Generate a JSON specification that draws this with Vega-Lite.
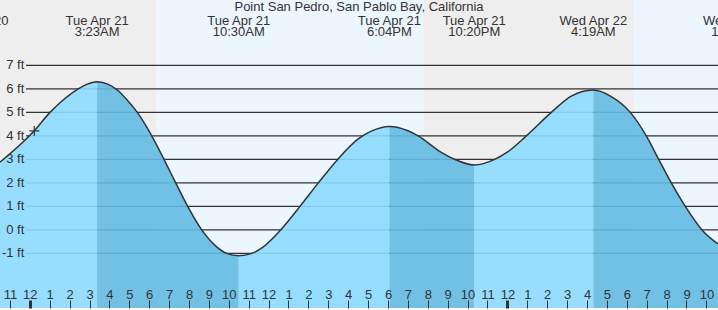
{
  "$schema": "https://vega.github.io/schema/vega-lite/v6.json",
  "width": 718,
  "height": 310,
  "autosize": {"type": "fit", "contains": "padding"},
  "padding": 0,
  "background": "#ffffff",
  "title": {"text": "Point San Pedro, San Pablo Bay, California", "font": "Liberation Sans", "fontSize": 13, "fontWeight": "normal", "color": "#333333", "anchor": "middle", "frame": "group", "offset": -14},
  "config": {"view": {"stroke": null}, "font": "Liberation Sans"},
  "datasets": {
    "bands": [
      {"start": -1.4975, "end": 6.377, "light": "night"},
      {"start": 6.377, "end": 19.809, "light": "day"},
      {"start": 19.809, "end": 30.362, "light": "night"},
      {"start": 30.362, "end": 34.583, "light": "day"}
    ],
    "curve": [
      {"t": -1.4975, "h": 2.88}, {"t": 0.226, "h": 4.22}, {"t": 1.015, "h": 5.0}, {"t": 1.518, "h": 5.41},
      {"t": 2.437, "h": 6.0}, {"t": 2.859, "h": 6.19}, {"t": 3.383, "h": 6.3}, {"t": 3.945, "h": 6.19},
      {"t": 4.397, "h": 5.95}, {"t": 4.869, "h": 5.55}, {"t": 5.402, "h": 5.0}, {"t": 6.176, "h": 3.93},
      {"t": 6.744, "h": 3.0}, {"t": 7.332, "h": 2.0}, {"t": 7.935, "h": 1.0}, {"t": 8.638, "h": 0.0},
      {"t": 9.392, "h": -0.72}, {"t": 9.894, "h": -1.0}, {"t": 10.5, "h": -1.1}, {"t": 11.151, "h": -1.0},
      {"t": 11.734, "h": -0.72}, {"t": 12.608, "h": 0.0}, {"t": 13.578, "h": 1.0}, {"t": 14.497, "h": 2.0},
      {"t": 15.472, "h": 3.0}, {"t": 16.503, "h": 3.87}, {"t": 17.161, "h": 4.2}, {"t": 18.067, "h": 4.4},
      {"t": 19.0, "h": 4.22}, {"t": 19.513, "h": 4.0}, {"t": 20.678, "h": 3.3}, {"t": 21.352, "h": 3.0},
      {"t": 22.333, "h": 2.76}, {"t": 23.362, "h": 3.0}, {"t": 24.03, "h": 3.33}, {"t": 24.95, "h": 4.0},
      {"t": 26.206, "h": 5.0}, {"t": 27.211, "h": 5.69}, {"t": 28.317, "h": 5.95}, {"t": 29.221, "h": 5.67},
      {"t": 30.176, "h": 5.0}, {"t": 30.98, "h": 4.0}, {"t": 31.603, "h": 3.0}, {"t": 32.236, "h": 2.0},
      {"t": 32.94, "h": 1.0}, {"t": 33.779, "h": 0.0}, {"t": 34.583, "h": -0.6}
    ],
    "area": [
      {"seg": 1, "phase": "rising", "t": -1.4975, "h": 2.88}, {"seg": 1, "phase": "rising", "t": 0.226, "h": 4.22},
      {"seg": 1, "phase": "rising", "t": 1.015, "h": 5.0}, {"seg": 1, "phase": "rising", "t": 1.518, "h": 5.41},
      {"seg": 1, "phase": "rising", "t": 2.437, "h": 6.0}, {"seg": 1, "phase": "rising", "t": 2.859, "h": 6.19},
      {"seg": 1, "phase": "rising", "t": 3.383, "h": 6.3},
      {"seg": 2, "phase": "falling", "t": 3.383, "h": 6.3}, {"seg": 2, "phase": "falling", "t": 3.945, "h": 6.19},
      {"seg": 2, "phase": "falling", "t": 4.397, "h": 5.95}, {"seg": 2, "phase": "falling", "t": 4.869, "h": 5.55},
      {"seg": 2, "phase": "falling", "t": 5.402, "h": 5.0}, {"seg": 2, "phase": "falling", "t": 6.176, "h": 3.93},
      {"seg": 2, "phase": "falling", "t": 6.744, "h": 3.0}, {"seg": 2, "phase": "falling", "t": 7.332, "h": 2.0},
      {"seg": 2, "phase": "falling", "t": 7.935, "h": 1.0}, {"seg": 2, "phase": "falling", "t": 8.638, "h": 0.0},
      {"seg": 2, "phase": "falling", "t": 9.392, "h": -0.72}, {"seg": 2, "phase": "falling", "t": 9.894, "h": -1.0},
      {"seg": 2, "phase": "falling", "t": 10.5, "h": -1.1},
      {"seg": 3, "phase": "rising", "t": 10.5, "h": -1.1}, {"seg": 3, "phase": "rising", "t": 11.151, "h": -1.0},
      {"seg": 3, "phase": "rising", "t": 11.734, "h": -0.72}, {"seg": 3, "phase": "rising", "t": 12.608, "h": 0.0},
      {"seg": 3, "phase": "rising", "t": 13.578, "h": 1.0}, {"seg": 3, "phase": "rising", "t": 14.497, "h": 2.0},
      {"seg": 3, "phase": "rising", "t": 15.472, "h": 3.0}, {"seg": 3, "phase": "rising", "t": 16.503, "h": 3.87},
      {"seg": 3, "phase": "rising", "t": 17.161, "h": 4.2}, {"seg": 3, "phase": "rising", "t": 18.067, "h": 4.4},
      {"seg": 4, "phase": "falling", "t": 18.067, "h": 4.4}, {"seg": 4, "phase": "falling", "t": 19.0, "h": 4.22},
      {"seg": 4, "phase": "falling", "t": 19.513, "h": 4.0}, {"seg": 4, "phase": "falling", "t": 20.678, "h": 3.3},
      {"seg": 4, "phase": "falling", "t": 21.352, "h": 3.0}, {"seg": 4, "phase": "falling", "t": 22.333, "h": 2.76},
      {"seg": 5, "phase": "rising", "t": 22.333, "h": 2.76}, {"seg": 5, "phase": "rising", "t": 23.362, "h": 3.0},
      {"seg": 5, "phase": "rising", "t": 24.03, "h": 3.33}, {"seg": 5, "phase": "rising", "t": 24.95, "h": 4.0},
      {"seg": 5, "phase": "rising", "t": 26.206, "h": 5.0}, {"seg": 5, "phase": "rising", "t": 27.211, "h": 5.69},
      {"seg": 5, "phase": "rising", "t": 28.317, "h": 5.95},
      {"seg": 6, "phase": "falling", "t": 28.317, "h": 5.95}, {"seg": 6, "phase": "falling", "t": 29.221, "h": 5.67},
      {"seg": 6, "phase": "falling", "t": 30.176, "h": 5.0}, {"seg": 6, "phase": "falling", "t": 30.98, "h": 4.0},
      {"seg": 6, "phase": "falling", "t": 31.603, "h": 3.0}, {"seg": 6, "phase": "falling", "t": 32.236, "h": 2.0},
      {"seg": 6, "phase": "falling", "t": 32.94, "h": 1.0}, {"seg": 6, "phase": "falling", "t": 33.779, "h": 0.0},
      {"seg": 6, "phase": "falling", "t": 34.583, "h": -0.6}
    ],
    "levels": [
      {"v": -1, "label": "-1 ft"}, {"v": 0, "label": "0 ft"}, {"v": 1, "label": "1 ft"}, {"v": 2, "label": "2 ft"},
      {"v": 3, "label": "3 ft"}, {"v": 4, "label": "4 ft"}, {"v": 5, "label": "5 ft"}, {"v": 6, "label": "6 ft"},
      {"v": 7, "label": "7 ft"}
    ],
    "tides": [
      {"t": -2.74, "label": "Mon Apr 20\n9:16PM"},
      {"t": 3.383, "label": "Tue Apr 21\n3:23AM"},
      {"t": 10.5, "label": "Tue Apr 21\n10:30AM"},
      {"t": 18.067, "label": "Tue Apr 21\n6:04PM"},
      {"t": 22.333, "label": "Tue Apr 21\n10:20PM"},
      {"t": 28.317, "label": "Wed Apr 22\n4:19AM"},
      {"t": 35.533, "label": "Wed Apr 22\n11:32AM"}
    ],
    "now": [{"t": 0.226, "h": 4.21}]
  },
  "layer": [
    {
      "data": {"name": "bands"},
      "mark": {"type": "rect"},
      "encoding": {
        "x": {"field": "start", "type": "quantitative",
              "scale": {"domain": [-1.4975, 34.583], "nice": false, "zero": false},
              "axis": {
                "values": [-1,0,1,2,3,4,5,6,7,8,9,10,11,12,13,14,15,16,17,18,19,20,21,22,23,24,25,26,27,28,29,30,31,32,33,34],
                "labelExpr": "(((datum.value % 12) + 12) % 12) == 0 ? '12' : '' + (((datum.value % 12) + 12) % 12)",
                "orient": "bottom", "domain": false, "grid": false, "title": null,
                "ticks": true, "tickSize": -8, "tickColor": "#333333",
                "tickWidth": {"condition": {"test": "datum.value % 24 === 0", "value": 3}, "value": 1},
                "labelPadding": -2, "labelBaseline": "alphabetic", "labelFontSize": 13, "labelFont": "Liberation Sans",
                "labelColor": "#333333", "labelAngle": 0, "labelOverlap": false, "labelFlush": false, "labelBound": false,
                "zindex": 1
              }},
        "x2": {"field": "end"},
        "color": {"field": "light", "type": "nominal", "scale": {"domain": ["night", "day"], "range": ["#eeeeee", "#ecf6ff"]}, "legend": null}
      }
    },
    {
      "data": {"name": "levels"},
      "mark": {"type": "rule", "color": "#333333", "strokeWidth": 1.3, "clip": true},
      "encoding": {
        "x": {"datum": -0.191, "type": "quantitative", "axis": null},
        "x2": {"datum": 34.583},
        "y": {"field": "v", "type": "quantitative", "scale": {"domain": [-3.322, 9.78], "nice": false, "zero": false}, "axis": null}
      }
    },
    {
      "data": {"name": "area"},
      "mark": {"type": "area", "interpolate": "monotone", "fillOpacity": 0.9, "clip": true},
      "encoding": {
        "x": {"field": "t", "type": "quantitative", "axis": null},
        "y": {"field": "h", "type": "quantitative", "axis": null},
        "y2": {"datum": -3.322},
        "detail": {"field": "seg", "type": "nominal"},
        "color": {"field": "phase", "type": "nominal", "scale": {"domain": ["rising", "falling"], "range": ["#8cdaff", "#64bbe3"]}, "legend": null}
      }
    },
    {
      "data": {"name": "curve"},
      "mark": {"type": "line", "interpolate": "monotone", "color": "#333333", "strokeWidth": 1.5, "clip": true},
      "encoding": {
        "x": {"field": "t", "type": "quantitative", "axis": null},
        "y": {"field": "h", "type": "quantitative", "axis": null}
      }
    },
    {
      "data": {"name": "levels"},
      "mark": {"type": "text", "align": "right", "baseline": "middle", "fontSize": 13, "color": "#333333"},
      "encoding": {
        "x": {"datum": -0.276, "type": "quantitative", "axis": null},
        "y": {"field": "v", "type": "quantitative", "axis": null},
        "text": {"field": "label"}
      }
    },
    {
      "data": {"name": "tides"},
      "mark": {"type": "text", "align": "center", "baseline": "alphabetic", "fontSize": 13, "lineBreak": "\n", "lineHeight": 11.5, "color": "#333333", "clip": true},
      "encoding": {
        "x": {"field": "t", "type": "quantitative", "axis": null},
        "y": {"datum": 8.72, "type": "quantitative", "axis": null},
        "text": {"field": "label"}
      }
    },
    {
      "data": {"name": "now"},
      "mark": {"type": "point", "shape": "M-1,0L1,0M0,-1L0,1", "filled": false, "size": 100, "color": "#333333", "strokeWidth": 1.2, "opacity": 1},
      "encoding": {
        "x": {"field": "t", "type": "quantitative", "axis": null},
        "y": {"field": "h", "type": "quantitative", "axis": null}
      }
    }
  ],
  "resolve": {"scale": {"color": "independent"}, "axis": {"x": "independent"}}
}
